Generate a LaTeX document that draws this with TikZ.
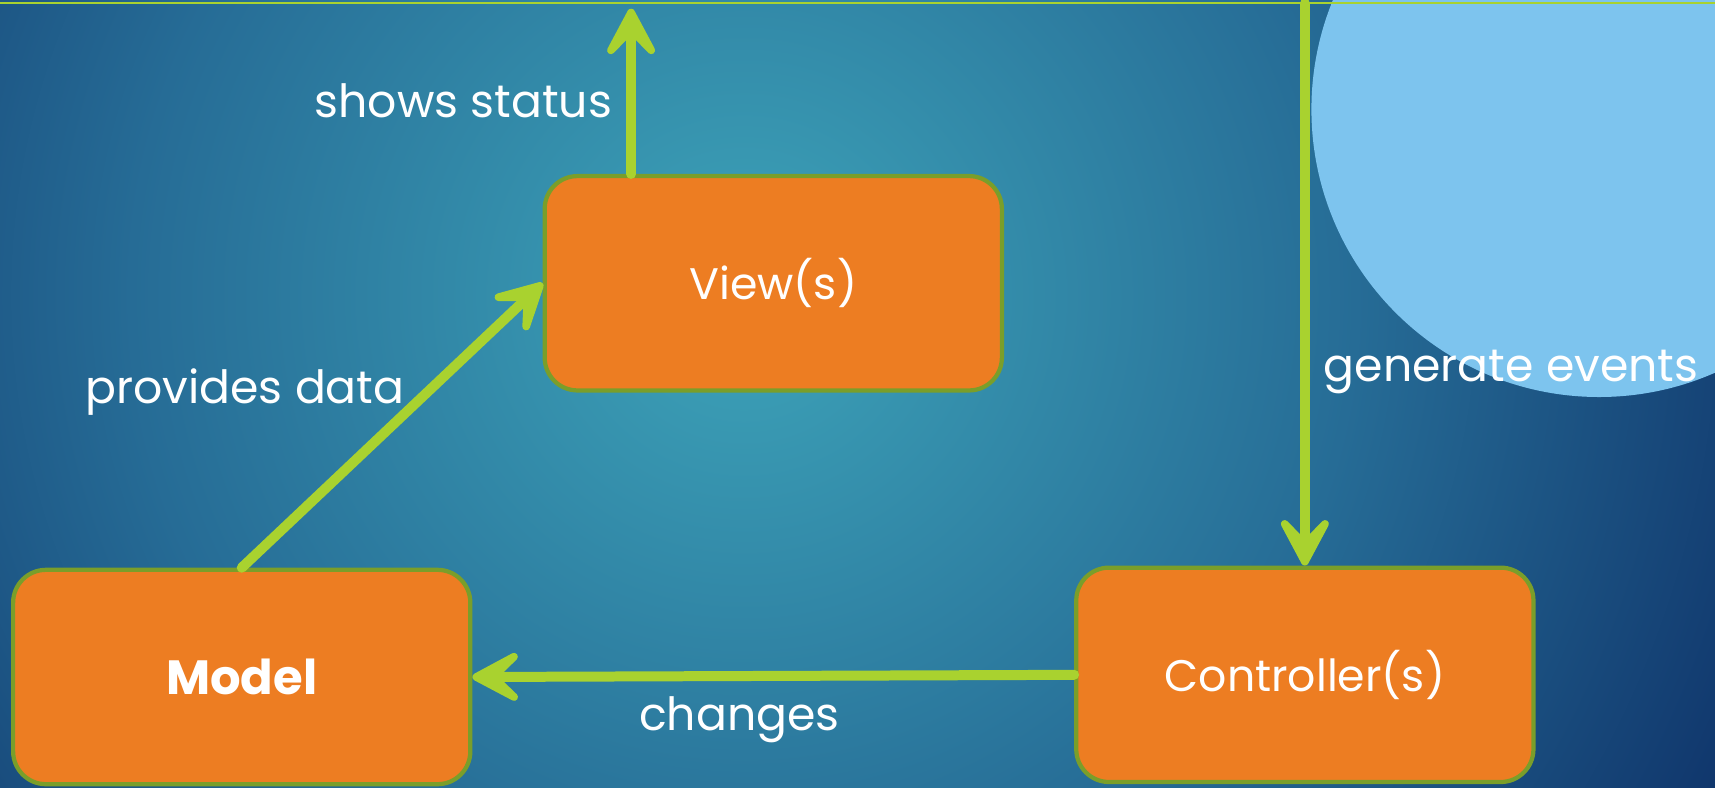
\documentclass[tikz,border=0pt]{standalone}
\usepackage{fontspec}
\setmainfont{Poppins}
\usetikzlibrary{arrows.meta}
\definecolor{lime}{RGB}{169,210,47}
\definecolor{boxorange}{RGB}{237,125,34}
\definecolor{boxrim}{RGB}{122,158,42}
\definecolor{sky}{RGB}{125,196,238}
\definecolor{bgin}{RGB}{58,156,180}
\definecolor{bgmid}{RGB}{38,108,150}
\definecolor{bgout}{RGB}{16,54,108}
\pgfdeclareradialshading{slide}{\pgfpoint{0bp}{0bp}}{color(0bp)=(bgin); color(2bp)=(bgin);
  color(14bp)=(bgmid); color(25bp)=(bgout); color(50bp)=(bgout)}
\begin{document}
\begin{tikzpicture}[
  box/.style={draw=boxrim, line width=1.1pt, fill=boxorange, rounded corners=0.3cm,
    minimum width=4.18cm, minimum height=1.96cm, text=white, font=\fontsize{11.5}{13}\selectfont},
  flow/.style={draw=lime, line width=2.6pt, line cap=round,
    -{Stealth[round, length=6.2mm, width=6.6mm, inset=3.4mm]}},
  lbl/.style={text=white, font=\fontsize{11.9}{14}\selectfont}]
  \useasboundingbox (0,0) rectangle (15.68,7.2);
  \begin{scope}
    \clip (0,0) rectangle (15.68,7.2);
    \fill[bgout] (0,0) rectangle (15.68,7.2);
    \shade[shading=slide] (6.8,4.5) circle (10);
    \fill[sky] (14.62,6.2) circle (2.63);
  \end{scope}
  \draw[lime, line width=0.6pt] (0,7.17) -- (15.68,7.17);
  \node (view) [box] at (7.07,4.61) {View(s)};
  \node (model) [box] at (2.21,1.01) {\fontsize{12.5}{14}\selectfont\bfseries Model};
  \node (ctrl) [box] at (11.93,1.03) {Controller(s)};
  \coordinate (statustop) at (5.77,7.12);
  \coordinate (eventstop) at (11.93,7.17);
  \draw[flow] (view.north -| statustop) -- (statustop);
  \draw[flow] (eventstop) -- (ctrl.north);
  \draw[flow] (model.north) -- (view.west);
  \draw[flow] (ctrl.west) -- (model.east);
  \node (statuslbl) [lbl, anchor=east] at (5.72,6.28) {shows status};
  \node (datalbl) [lbl] at (2.24,3.62) {provides data};
  \node (eventslbl) [lbl, anchor=west] at (11.98,3.80) {generate events};
  \node (changeslbl) [lbl] at (6.76,0.62) {changes};
\end{tikzpicture}
\end{document}
